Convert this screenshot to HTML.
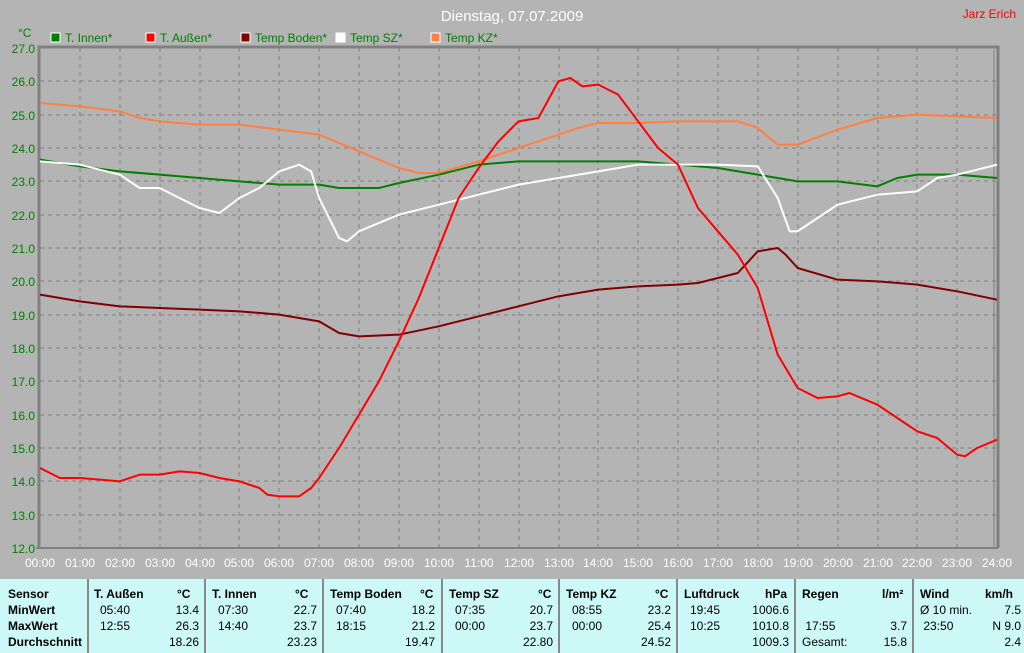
<!DOCTYPE html>
<html><head><meta charset="utf-8"><style>
body{margin:0;width:1024px;height:653px;background:#b4b4b4;font-family:"Liberation Sans",sans-serif;overflow:hidden;position:relative}
.t{position:absolute;font-size:12px;white-space:nowrap}
#tab{position:absolute;left:0;top:579px;width:1024px;height:74px;background:#ccf8f8}
.c{position:absolute;top:0;height:74px;border-left:2px solid #888}
.r{position:absolute;font-size:12px;line-height:16px;color:#000}
.b{font-weight:bold}
</style></head><body>
<svg width="1024" height="653" style="position:absolute;left:0;top:0">
<text x="512" y="21" text-anchor="middle" fill="#fff" font-size="15" font-family="Liberation Sans">Dienstag, 07.07.2009</text>
<text x="1016" y="18" text-anchor="end" fill="#f00" font-size="12" font-family="Liberation Sans">Jarz Erich</text>
<text x="18" y="37" fill="#008000" font-size="12" font-family="Liberation Sans">°C</text>
<g font-size="12" font-family="Liberation Sans" fill="#008000">
<rect x="51" y="33" width="9" height="9" fill="#008000" stroke="#fff"/><text x="65" y="42">T. Innen*</text>
<rect x="146" y="33" width="9" height="9" fill="#f00" stroke="#fff"/><text x="160" y="42">T. Außen*</text>
<rect x="241" y="33" width="9" height="9" fill="#800000" stroke="#fff"/><text x="255" y="42">Temp Boden*</text>
<rect x="336" y="33" width="9" height="9" fill="#fff" stroke="#fff"/><text x="350" y="42">Temp SZ*</text>
<rect x="431" y="33" width="9" height="9" fill="#ff8040" stroke="#fff"/><text x="445" y="42">Temp KZ*</text>
</g>
<g stroke="#808080" stroke-width="1" stroke-dasharray="4,4">
<path d="M80 48V548M120 48V548M160 48V548M200 48V548M239 48V548M279 48V548M319 48V548M359 48V548M399 48V548M439 48V548M479 48V548M519 48V548M559 48V548M598 48V548M638 48V548M678 48V548M718 48V548M758 48V548M798 48V548M838 48V548M878 48V548M917 48V548M957 48V548"/>
<path d="M40 81H997M40 115H997M40 148H997M40 181H997M40 215H997M40 248H997M40 281H997M40 315H997M40 348H997M40 381H997M40 415H997M40 448H997M40 481H997M40 515H997"/>
</g>
<path d="M39 548V47H998V548" fill="none" stroke="#808080" stroke-width="3"/>
<path d="M994 50V548" stroke="#808080" stroke-width="1"/>
<path d="M36 548H998" stroke="#808080" stroke-width="2"/>
<g font-size="12" font-family="Liberation Sans" fill="#008000" text-anchor="end">
<text x="35" y="53">27.0</text><text x="35" y="86">26.0</text><text x="35" y="120">25.0</text><text x="35" y="153">24.0</text><text x="35" y="186">23.0</text><text x="35" y="220">22.0</text><text x="35" y="253">21.0</text><text x="35" y="286">20.0</text><text x="35" y="320">19.0</text><text x="35" y="353">18.0</text><text x="35" y="386">17.0</text><text x="35" y="420">16.0</text><text x="35" y="453">15.0</text><text x="35" y="486">14.0</text><text x="35" y="520">13.0</text><text x="35" y="553">12.0</text>
</g>
<g font-size="12" font-family="Liberation Sans" fill="#fff" text-anchor="middle">
<text x="40" y="567">00:00</text><text x="80" y="567">01:00</text><text x="120" y="567">02:00</text><text x="160" y="567">03:00</text><text x="200" y="567">04:00</text><text x="239" y="567">05:00</text><text x="279" y="567">06:00</text><text x="319" y="567">07:00</text><text x="359" y="567">08:00</text><text x="399" y="567">09:00</text><text x="439" y="567">10:00</text><text x="479" y="567">11:00</text><text x="519" y="567">12:00</text><text x="559" y="567">13:00</text><text x="598" y="567">14:00</text><text x="638" y="567">15:00</text><text x="678" y="567">16:00</text><text x="718" y="567">17:00</text><text x="758" y="567">18:00</text><text x="798" y="567">19:00</text><text x="838" y="567">20:00</text><text x="878" y="567">21:00</text><text x="917" y="567">22:00</text><text x="957" y="567">23:00</text><text x="997" y="567">24:00</text>
</g>
<svg x="40" y="48" width="957" height="500" viewBox="0 -27 24 15" preserveAspectRatio="none" overflow="visible">
<g fill="none" stroke-width="2" vector-effect="non-scaling-stroke" stroke-linejoin="round">
<polyline vector-effect="non-scaling-stroke" stroke="#ff8040" stroke-width="2" fill="none" points="0,-25.35 1,-25.25 2,-25.1 2.5,-24.9 3,-24.8 4,-24.7 5,-24.7 6,-24.55 7,-24.4 8,-23.9 9,-23.4 9.5,-23.25 10,-23.25 11,-23.6 12,-24 13,-24.4 13.5,-24.6 14,-24.75 15,-24.75 16,-24.8 17,-24.8 17.5,-24.8 18,-24.6 18.5,-24.1 19,-24.1 20,-24.55 21,-24.9 22,-25 23,-24.95 24,-24.9"/>
<polyline vector-effect="non-scaling-stroke" stroke="#008000" stroke-width="2" fill="none" points="0,-23.65 1,-23.45 2,-23.3 3,-23.2 4,-23.1 5,-23 6,-22.9 7,-22.9 7.5,-22.8 8.5,-22.8 9,-22.95 10,-23.2 11,-23.5 12,-23.6 13,-23.6 15,-23.6 16,-23.5 17,-23.4 18,-23.2 19,-23 20,-23 21,-22.85 21.5,-23.1 22,-23.2 23,-23.2 24,-23.1"/>
<polyline vector-effect="non-scaling-stroke" stroke="#fff" stroke-width="2" fill="none" points="0,-23.6 1,-23.5 2,-23.2 2.5,-22.8 3,-22.8 4,-22.2 4.5,-22.05 5,-22.5 5.5,-22.8 6,-23.3 6.5,-23.5 6.8,-23.3 7,-22.5 7.5,-21.3 7.7,-21.2 8,-21.5 9,-22 10,-22.3 11,-22.6 12,-22.9 13,-23.1 14,-23.3 15,-23.5 16,-23.5 17,-23.5 18,-23.45 18.5,-22.5 18.8,-21.5 19,-21.5 19.5,-21.9 20,-22.3 21,-22.6 22,-22.7 22.5,-23.1 23,-23.2 24,-23.5"/>
<polyline vector-effect="non-scaling-stroke" stroke="#800000" stroke-width="2" fill="none" points="0,-19.6 1,-19.4 2,-19.25 3,-19.2 4,-19.15 5,-19.1 6,-19 7,-18.8 7.5,-18.45 8,-18.35 9,-18.4 10,-18.65 11,-18.95 12,-19.25 13,-19.55 14,-19.75 15,-19.85 16,-19.9 16.5,-19.95 17,-20.1 17.5,-20.25 18,-20.9 18.5,-21 18.7,-20.8 19,-20.4 20,-20.05 21,-20 22,-19.9 23,-19.7 24,-19.45"/>
<polyline vector-effect="non-scaling-stroke" stroke="#f00" stroke-width="2" fill="none" points="0,-14.4 0.5,-14.1 1,-14.1 1.5,-14.05 2,-14 2.5,-14.2 3,-14.2 3.5,-14.3 4,-14.25 4.5,-14.1 5,-14 5.5,-13.8 5.7,-13.6 6,-13.55 6.5,-13.55 6.8,-13.8 7,-14.1 7.5,-15 8,-16 8.5,-17 9,-18.2 9.5,-19.5 10,-21 10.5,-22.5 11,-23.4 11.5,-24.2 12,-24.8 12.5,-24.9 13,-26 13.3,-26.1 13.6,-25.85 14,-25.9 14.5,-25.6 15,-24.8 15.5,-24 16,-23.5 16.5,-22.2 17,-21.5 17.5,-20.8 18,-19.8 18.5,-17.8 19,-16.8 19.5,-16.5 20,-16.55 20.3,-16.65 21,-16.3 21.5,-15.9 22,-15.5 22.5,-15.3 23,-14.8 23.2,-14.75 23.5,-15 24,-15.25"/>
</g>
</svg>
</svg>
<div id="tab">
<div class="c" style="left:87px"></div><div class="c" style="left:204px"></div><div class="c" style="left:322px"></div><div class="c" style="left:441px"></div><div class="c" style="left:558px"></div><div class="c" style="left:676px"></div><div class="c" style="left:794px"></div><div class="c" style="left:912px"></div>
<div class="r b" style="left:8px;top:7px">Sensor<br>MinWert<br>MaxWert<br>Durchschnitt</div>
<div class="r b" style="left:94px;top:7px">T. Außen</div><div class="r b" style="left:177px;top:7px">°C</div>
<div class="r" style="left:100px;top:23px">05:40<br>12:55</div><div class="r" style="left:140px;width:59px;text-align:right;top:23px">13.4<br>26.3<br>18.26</div>
<div class="r b" style="left:212px;top:7px">T. Innen</div><div class="r b" style="left:295px;top:7px">°C</div>
<div class="r" style="left:218px;top:23px">07:30<br>14:40</div><div class="r" style="left:258px;width:59px;text-align:right;top:23px">22.7<br>23.7<br>23.23</div>
<div class="r b" style="left:330px;top:7px">Temp Boden</div><div class="r b" style="left:420px;top:7px">°C</div>
<div class="r" style="left:336px;top:23px">07:40<br>18:15</div><div class="r" style="left:376px;width:59px;text-align:right;top:23px">18.2<br>21.2<br>19.47</div>
<div class="r b" style="left:449px;top:7px">Temp SZ</div><div class="r b" style="left:538px;top:7px">°C</div>
<div class="r" style="left:455px;top:23px">07:35<br>00:00</div><div class="r" style="left:494px;width:59px;text-align:right;top:23px">20.7<br>23.7<br>22.80</div>
<div class="r b" style="left:566px;top:7px">Temp KZ</div><div class="r b" style="left:655px;top:7px">°C</div>
<div class="r" style="left:572px;top:23px">08:55<br>00:00</div><div class="r" style="left:612px;width:59px;text-align:right;top:23px">23.2<br>25.4<br>24.52</div>
<div class="r b" style="left:684px;top:7px">Luftdruck</div><div class="r b" style="left:765px;top:7px">hPa</div>
<div class="r" style="left:690px;top:23px">19:45<br>10:25</div><div class="r" style="left:720px;width:69px;text-align:right;top:23px">1006.6<br>1010.8<br>1009.3</div>
<div class="r b" style="left:802px;top:7px">Regen</div><div class="r b" style="left:882px;top:7px">l/m²</div>
<div class="r" style="left:802px;top:23px"><br>&nbsp;17:55<br>Gesamt:</div><div class="r" style="left:850px;width:57px;text-align:right;top:23px"><br>3.7<br>15.8</div>
<div class="r b" style="left:920px;top:7px">Wind</div><div class="r b" style="left:985px;top:7px">km/h</div>
<div class="r" style="left:920px;top:23px">Ø 10 min.<br>&nbsp;23:50</div><div class="r" style="left:960px;width:61px;text-align:right;top:23px">7.5<br>N 9.0<br>2.4</div>
</div>
</body></html>
